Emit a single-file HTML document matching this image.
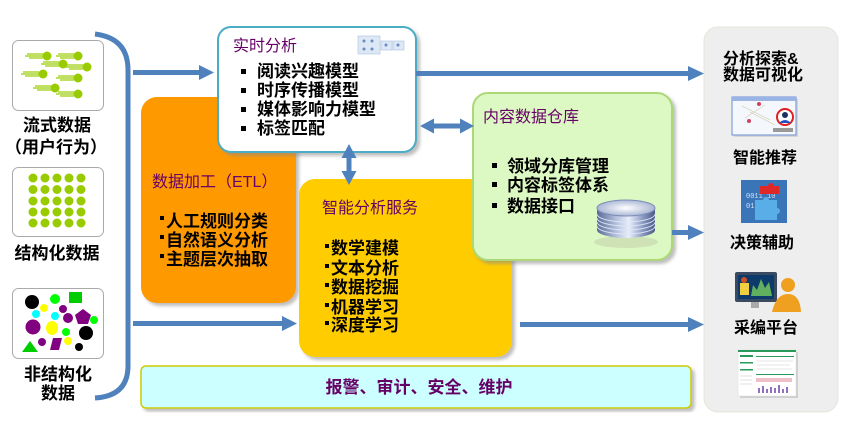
<!DOCTYPE html>
<html><head><meta charset="utf-8"><style>
html,body{margin:0;padding:0;background:#fff;}
svg{display:block;}
text{font-family:"Liberation Sans","Noto Sans CJK SC",sans-serif;}
.b{font-weight:bold;font-size:17px;fill:#000;}
.t{font-size:16px;fill:#660066;}
.r{font-weight:bold;font-size:16px;fill:#000;}
</style></head><body>
<svg width="852" height="427" viewBox="0 0 852 427" xmlns="http://www.w3.org/2000/svg">
<defs>
<filter id="sh" x="-5%" y="-5%" width="115%" height="115%"><feDropShadow dx="3" dy="3" stdDeviation="1.5" flood-color="#888" flood-opacity="0.55"/></filter>
<linearGradient id="cyl" x1="0" x2="1" y1="0" y2="0">
<stop offset="0" stop-color="#5a6a96"/><stop offset="0.35" stop-color="#b8c4e0"/><stop offset="0.55" stop-color="#e8eefa"/><stop offset="0.8" stop-color="#8696c0"/><stop offset="1" stop-color="#4a5a86"/></linearGradient>
<radialGradient id="cyt" cx="0.5" cy="0.5" r="0.6"><stop offset="0" stop-color="#ffffff"/><stop offset="1" stop-color="#9aa8cc"/></radialGradient>
</defs>

<!-- right gray panel -->
<rect x="704" y="27" width="134" height="385" rx="14" fill="#eeeeee" stroke="#e6e6dc" stroke-width="1"/>

<!-- left bracket -->
<path d="M95,34 Q128,38 128,70 L128,366 Q128,396 95,398" fill="none" stroke="#4f81bd" stroke-width="5"/>

<!-- left boxes -->
<rect x="12.5" y="40.5" width="91" height="70" rx="6" fill="#fff" stroke="#aaa"/>
<rect x="12.5" y="167.5" width="91" height="69" rx="6" fill="#fff" stroke="#aaa"/>
<rect x="12.5" y="288.5" width="91" height="70" rx="6" fill="#fff" stroke="#aaa"/>

<!-- stream dots -->
<g stroke="#99cc00" stroke-width="1.2" fill="#99cc00">
<g transform="translate(47,56)"><line x1="-20" y1="-2" x2="-4" y2="-2"/><line x1="-22" y1="0" x2="-4" y2="0"/><line x1="-18" y1="2" x2="-4" y2="2"/><circle r="4.5" stroke="none"/></g>
<g transform="translate(78,56)"><line x1="-20" y1="-2" x2="-4" y2="-2"/><line x1="-22" y1="0" x2="-4" y2="0"/><line x1="-18" y1="2" x2="-4" y2="2"/><circle r="4.5" stroke="none"/></g>
<g transform="translate(63,64)"><line x1="-20" y1="-2" x2="-4" y2="-2"/><line x1="-22" y1="0" x2="-4" y2="0"/><line x1="-18" y1="2" x2="-4" y2="2"/><circle r="4.5" stroke="none"/></g>
<g transform="translate(87,67)"><line x1="-20" y1="-2" x2="-4" y2="-2"/><line x1="-22" y1="0" x2="-4" y2="0"/><line x1="-18" y1="2" x2="-4" y2="2"/><circle r="4.5" stroke="none"/></g>
<g transform="translate(43,74)"><line x1="-20" y1="-2" x2="-4" y2="-2"/><line x1="-22" y1="0" x2="-4" y2="0"/><line x1="-18" y1="2" x2="-4" y2="2"/><circle r="4.5" stroke="none"/></g>
<g transform="translate(78,78)"><line x1="-20" y1="-2" x2="-4" y2="-2"/><line x1="-22" y1="0" x2="-4" y2="0"/><line x1="-18" y1="2" x2="-4" y2="2"/><circle r="4.5" stroke="none"/></g>
<g transform="translate(55,88)"><line x1="-20" y1="-2" x2="-4" y2="-2"/><line x1="-22" y1="0" x2="-4" y2="0"/><line x1="-18" y1="2" x2="-4" y2="2"/><circle r="4.5" stroke="none"/></g>
<g transform="translate(78,94)"><line x1="-20" y1="-2" x2="-4" y2="-2"/><line x1="-22" y1="0" x2="-4" y2="0"/><line x1="-18" y1="2" x2="-4" y2="2"/><circle r="4.5" stroke="none"/></g>
</g>

<!-- grid dots -->
<g fill="#99cc00">
<circle cx="33" cy="178" r="4.5"/><circle cx="45" cy="178" r="4.5"/><circle cx="57" cy="178" r="4.5"/><circle cx="69" cy="178" r="4.5"/><circle cx="81" cy="178" r="4.5"/>
<circle cx="33" cy="189.5" r="4.5"/><circle cx="45" cy="189.5" r="4.5"/><circle cx="57" cy="189.5" r="4.5"/><circle cx="69" cy="189.5" r="4.5"/><circle cx="81" cy="189.5" r="4.5"/>
<circle cx="33" cy="201" r="4.5"/><circle cx="45" cy="201" r="4.5"/><circle cx="57" cy="201" r="4.5"/><circle cx="69" cy="201" r="4.5"/><circle cx="81" cy="201" r="4.5"/>
<circle cx="33" cy="212" r="4.5"/><circle cx="45" cy="212" r="4.5"/><circle cx="57" cy="212" r="4.5"/><circle cx="69" cy="212" r="4.5"/><circle cx="81" cy="212" r="4.5"/>
<circle cx="33" cy="223" r="4.5"/><circle cx="45" cy="223" r="4.5"/><circle cx="57" cy="223" r="4.5"/><circle cx="69" cy="223" r="4.5"/><circle cx="81" cy="223" r="4.5"/>
</g>

<!-- unstructured shapes -->
<circle cx="32" cy="302" r="7" fill="#000"/>
<circle cx="55" cy="299" r="5" fill="#00ff00"/>
<rect x="69" y="292" width="13" height="11" fill="#00cc00"/>
<circle cx="44" cy="308" r="4" fill="#ffff00"/>
<circle cx="63" cy="309" r="4" fill="#800080"/>
<circle cx="36" cy="314" r="4" fill="#00ffff"/>
<circle cx="55" cy="316" r="4" fill="#00ffff"/>
<circle cx="68" cy="318" r="5" fill="#800080"/>
<polygon points="83,309 91,315 88,324 78,324 75,315" fill="#800080"/>
<circle cx="94" cy="320" r="4" fill="#00ff00"/>
<circle cx="33" cy="327" r="7.5" fill="#800080"/>
<ellipse cx="52" cy="328" rx="6" ry="7" fill="#ffff00"/>
<circle cx="66" cy="332" r="4" fill="#00ff00"/>
<circle cx="86" cy="333" r="7" fill="#000"/>
<circle cx="42" cy="342" r="4" fill="#800080"/>
<polygon points="53,338 62,338 59,350 50,350" fill="#800080"/>
<circle cx="68" cy="341" r="4" fill="#ffff00"/>
<circle cx="79" cy="347" r="4" fill="#000"/>
<polygon points="30,341 38,352 22,352" fill="#00cc00"/>

<!-- left labels -->
<g class="b" text-anchor="middle">
<text x="57" y="131" class="b">流式数据</text>
<text x="56" y="153" class="b">（用户行为）</text>
<text x="57" y="259" class="b">结构化数据</text>
<text x="58" y="380" class="b">非结构化</text>
<text x="58" y="399" class="b">数据</text>
</g>

<!-- ETL box -->
<rect x="141" y="97" width="155" height="206" rx="16" fill="#ff9900" filter="url(#sh)"/>
<text x="152" y="187" class="t">数据加工（ETL）</text>
<g>
<rect x="160" y="216" width="4" height="4" fill="#000"/><text x="166" y="227" class="b">人工规则分类</text>
<rect x="160" y="235" width="4" height="4" fill="#000"/><text x="166" y="246" class="b">自然语义分析</text>
<rect x="160" y="254" width="4" height="4" fill="#000"/><text x="166" y="265" class="b">主题层次抽取</text>
</g>

<!-- yellow box -->
<rect x="299" y="179" width="213" height="178" rx="16" fill="#ffcc00" filter="url(#sh)"/>
<text x="322" y="213" class="t">智能分析服务</text>
<rect x="325" y="244" width="4" height="4" fill="#000"/><text x="331" y="254" class="b">数学建模</text>
<rect x="325" y="264" width="4" height="4" fill="#000"/><text x="331" y="274" class="b">文本分析</text>
<rect x="325" y="283" width="4" height="4" fill="#000"/><text x="331" y="293" class="b">数据挖掘</text>
<rect x="325" y="303" width="4" height="4" fill="#000"/><text x="331" y="313" class="b">机器学习</text>
<rect x="325" y="321" width="4" height="4" fill="#000"/><text x="331" y="331" class="b">深度学习</text>

<!-- 实时分析 box -->
<rect x="218" y="27" width="198" height="125" rx="13" fill="#fff" stroke="#4bacc6" stroke-width="2" filter="url(#sh)"/>
<text x="233" y="51" class="t">实时分析</text>
<g>
<rect x="358" y="36" width="22" height="18" fill="#dde8f6" stroke="#aac0e0" stroke-width="0.6"/>
<rect x="381" y="41" width="11" height="9" fill="#dde8f6" stroke="#aac0e0" stroke-width="0.6"/>
<rect x="393" y="41" width="11" height="9" fill="#dde8f6" stroke="#aac0e0" stroke-width="0.6"/>
<circle cx="364" cy="41" r="1.5" fill="#6a8cc0"/><circle cx="372" cy="41" r="1.5" fill="#6a8cc0"/><circle cx="364" cy="49" r="1.5" fill="#6a8cc0"/><circle cx="372" cy="49" r="1.5" fill="#6a8cc0"/><circle cx="386" cy="45" r="1.5" fill="#6a8cc0"/><circle cx="398" cy="45" r="1.5" fill="#6a8cc0"/>
</g>
<rect x="241" y="69" width="5" height="5" fill="#000"/><text x="257" y="77" class="b">阅读兴趣模型</text>
<rect x="241" y="88" width="5" height="5" fill="#000"/><text x="257" y="96" class="b">时序传播模型</text>
<rect x="241" y="107" width="5" height="5" fill="#000"/><text x="257" y="115" class="b">媒体影响力模型</text>
<rect x="241" y="126" width="5" height="5" fill="#000"/><text x="257" y="134" class="b">标签匹配</text>

<!-- green box -->
<rect x="473" y="93" width="199" height="167" rx="15" fill="#ddf9c3" stroke="#acd878" stroke-width="2" filter="url(#sh)"/>
<text x="483" y="122" class="t">内容数据仓库</text>
<rect x="492" y="163" width="5" height="5" fill="#000"/><text x="507" y="172" class="b">领域分库管理</text>
<rect x="492" y="182" width="5" height="5" fill="#000"/><text x="507" y="191" class="b">内容标签体系</text>
<rect x="492" y="203" width="5" height="5" fill="#000"/><text x="507" y="212" class="b">数据接口</text>
<!-- cylinder -->
<ellipse cx="626" cy="242" rx="32" ry="6" fill="#c8d8b0" opacity="0.7"/>
<path d="M597,208 L597,230 A29,8 0 0 0 655,230 L655,208 Z" fill="url(#cyl)"/>
<g stroke="#dfe6f5" stroke-width="1" fill="none" opacity="0.9">
<path d="M597,214 A29,8 0 0 0 655,214"/><path d="M597,218 A29,8 0 0 0 655,218"/><path d="M597,222 A29,8 0 0 0 655,222"/><path d="M597,226 A29,8 0 0 0 655,226"/>
</g>
<ellipse cx="626" cy="208" rx="29" ry="8" fill="url(#cyt)" stroke="#7d8cb6" stroke-width="1"/>

<!-- bottom cyan box -->
<rect x="141" y="366" width="550" height="42" rx="5" fill="#ccffff" stroke="#cccc00" stroke-width="1.5" filter="url(#sh)"/>
<text x="419" y="393" text-anchor="middle" style="font-weight:bold;font-size:17px;fill:#660066;">报警、审计、安全、维护</text>

<!-- arrows -->
<g fill="#4f81bd" stroke="none">
<rect x="133" y="70" width="68" height="5"/><polygon points="199,65 214,72.5 199,80"/>
<rect x="416" y="71" width="274" height="5"/><polygon points="688,66 704,73.5 688,81"/>
<rect x="672" y="230" width="18" height="5"/><polygon points="688,225 704,232.5 688,240"/>
<rect x="133" y="321" width="150" height="5"/><polygon points="282,316 297,323.5 282,331"/>
<rect x="520" y="322" width="170" height="5"/><polygon points="688,317 704,324.5 688,332"/>
<!-- horizontal double -->
<rect x="432" y="123.5" width="30" height="5"/><polygon points="420,126 434,118.5 434,133.5"/><polygon points="474,126 460,118.5 460,133.5"/>
<!-- vertical double -->
<rect x="346.5" y="156" width="5" height="18"/><polygon points="349,144 341.5,158 356.5,158"/><polygon points="349,185 341.5,171 356.5,171"/>
</g>

<!-- right panel content -->
<text x="723" y="64" class="r">分析探索&amp;</text>
<text x="723" y="80" class="r">数据可视化</text>
<!-- image 1 -->
<rect x="734" y="99" width="64" height="38" fill="#bbb" opacity="0.5"/>
<rect x="732" y="97" width="64" height="38" fill="#f4f8fc" stroke="#6a8ed8" stroke-width="1"/>
<rect x="732" y="97" width="64" height="4" fill="#9bb4e6"/>
<g stroke="#c8b890" stroke-width="0.5"><line x1="742" y1="106" x2="770" y2="120"/><line x1="745" y1="118" x2="765" y2="105"/><line x1="750" y1="112" x2="775" y2="125"/></g>
<circle cx="759" cy="104" r="2" fill="#d04060"/><circle cx="749" cy="121" r="2" fill="#d04060"/>
<circle cx="785" cy="117" r="8" fill="#fff" stroke="#e02020" stroke-width="2"/>
<circle cx="785" cy="115" r="3" fill="#203060"/><path d="M779,123 Q785,117 791,123 Z" fill="#2050c0"/>
<rect x="773" y="128" width="20" height="4" fill="#999"/>
<text x="765" y="163" text-anchor="middle" class="r">智能推荐</text>
<!-- image 2 -->
<rect x="741" y="180" width="46" height="43" fill="#4a80c0"/>
<rect x="741" y="180" width="46" height="43" fill="#2a6aae" opacity="0.5"/>
<text x="746" y="198" style="font-size:7px;fill:#cfe0f8;font-family:'Liberation Mono',monospace;">0011 10</text>
<text x="746" y="208" style="font-size:7px;fill:#cfe0f8;font-family:'Liberation Mono',monospace;">01 001</text>
<path d="M755,200 h8 a3,3 0 0 1 6,0 h8 v8 a3,3 0 0 1 0,6 v6 h-22 Z" fill="#5aaee8"/>
<path d="M760,186 h8 a3,3 0 0 1 6,0 h5 v8 h-19 Z" fill="#e02828"/>
<text x="762" y="248" text-anchor="middle" class="r">决策辅助</text>
<!-- image 3 -->
<rect x="735" y="272" width="42" height="30" rx="2" fill="#3a4a60"/>
<rect x="738" y="275" width="36" height="24" fill="#0c3a6a"/>
<rect x="740" y="283" width="9" height="12" fill="#f0d040"/>
<circle cx="744" cy="280" r="3" fill="#d05020"/>
<path d="M751,296 L753,285 L757,290 L761,279 L765,288 L769,282 L772,296 Z" fill="#60b060"/>
<rect x="751" y="302" width="8" height="6" fill="#aaa"/>
<circle cx="788" cy="285" r="7" fill="#f0a020"/>
<path d="M772,312 Q776,294 788,294 Q800,294 801,312 Z" fill="#f0a020"/>
<text x="766" y="333" text-anchor="middle" class="r">采编平台</text>
<!-- image 4 -->
<rect x="740" y="352" width="58" height="46" fill="#bbb" opacity="0.6"/>
<rect x="738" y="350" width="58" height="46" fill="#fff" stroke="#ddd" stroke-width="0.5"/>
<rect x="738" y="350" width="58" height="2" fill="#2a9a5a"/>
<rect x="740" y="355" width="13" height="2" fill="#2a9a5a"/>
<rect x="740" y="362" width="13" height="1.5" fill="#2a9a5a"/>
<rect x="740" y="369" width="13" height="1.5" fill="#2a9a5a"/>
<rect x="756" y="356" width="38" height="1" fill="#2a9a5a"/>
<rect x="756" y="374" width="38" height="1" fill="#2a9a5a"/>
<rect x="756" y="378" width="36" height="4" fill="#f0c0c8"/>
<g fill="#9070c0"><rect x="758" y="388" width="2" height="5"/><rect x="762" y="386" width="2" height="7"/><rect x="766" y="389" width="2" height="4"/><rect x="770" y="387" width="2" height="6"/><rect x="774" y="388" width="2" height="5"/><rect x="778" y="385" width="2" height="8"/><rect x="782" y="389" width="2" height="4"/><rect x="786" y="387" width="2" height="6"/></g>
<g stroke="#ccc" stroke-width="0.6"><line x1="757" y1="361" x2="793" y2="361"/><line x1="757" y1="365" x2="790" y2="365"/><line x1="757" y1="369" x2="792" y2="369"/><line x1="740" y1="376" x2="752" y2="376"/><line x1="740" y1="380" x2="752" y2="380"/><line x1="740" y1="384" x2="752" y2="384"/></g>
</svg>
</body></html>
